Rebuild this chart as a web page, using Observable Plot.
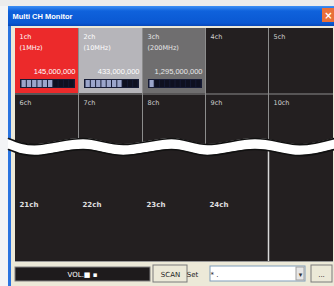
<!DOCTYPE html>
<html><head><meta charset="utf-8">
<script src="https://cdn.jsdelivr.net/npm/d3@7"></script>
<script src="https://cdn.jsdelivr.net/npm/@observablehq/plot@0.6"></script>
<style>html,body{margin:0;padding:0;background:#f3f4f6;} svg{display:block;}</style>
</head><body><div id="chart"></div>
<script>
// ---- data ----
const title = "Multi CH Monitor";
const channels = ["1ch","2ch","3ch","4ch","5ch","6ch","7ch","8ch","9ch","10ch"];
const bands = ["(1MHz)","(10MHz)","(200MHz)","","","","","","",""];
const freqs = ["145,000,000","433,000,000","1,295,000,000","","","","","","",""];
const levels = [6,7,1,0,0,0,0,0,0,0];
const states = ["active","on","scan","off","off","off","off","off","off","off"];
const lowerChannels = ["21ch","22ch","23ch","24ch"];
const displayText = "VOL.\u25A0 \u25AA";
const buttonText = "SCAN";
const setLabel = "Set";
const comboText = "* .";
const moreText = "...";
const waveX = [8,38,83,123,171,207,254,295,334];
const waveOffset = [-3,3,-3,3,-3,3,-3,3,-3];

// ---- layout / style ----
const W = 334, H = 286;
const COLS = [15,78,142,205,268,333];
const ROW_TOP = [28,94];
const ROW_BOT = [93,150];
const stateFill = {active:"#ec2a2b", on:"#b6b5ba", scan:"#6f6e6f", off:"#231f20"};
const stateText = {active:"#ffffff", on:"#ffffff", scan:"#e8e8e8", off:"#cfcfcf"};
const FONT = "DejaVu Sans";

const cells = channels.map((c,i)=>{
  const col = i%5, row = Math.floor(i/5);
  return {c, band:bands[i], freq:freqs[i], level:levels[i], state:states[i],
    x1: COLS[col] + (col>0?1:0), x2: COLS[col+1], y1: ROW_TOP[row], y2: ROW_BOT[row]};
});
const SEG = 10;
const segs = [];
cells.forEach(cell=>{
  if(!cell.freq) return;
  const mx1 = cell.x1+5, mx2 = cell.x2-3, sw = (mx2-mx1-2)/SEG;
  segs.push({bg:true, x1:mx1, x2:mx2, y1:79, y2:88});
  for(let j=0;j<SEG;j++) segs.push({bg:false, lit:j<cell.level, x1:mx1+1+j*sw+0.5, x2:mx1+1+(j+1)*sw-0.5, y1:80, y2:87});
});
const wave = waveX.map((x,i)=>({x, top:141+waveOffset[i], bot:152+waveOffset[i]}));

const rects = [
  {x1:0,x2:W,y1:0,y2:6,fill:"#ececec"},
  {x1:8,x2:W,y1:6,y2:H,fill:"#ece9d8"},
  {x1:8,x2:W,y1:6,y2:26,fill:"url(#tb)"},
  {x1:8,x2:11,y1:26,y2:H,fill:"#2a74e0"},
  {x1:322,x2:W,y1:8,y2:22,fill:"#e8703a"},
  {x1:15,x2:333,y1:28,y2:261,fill:"#231f20"}
];
const vlines = COLS.slice(1,5).map(x=>({x, y1:28, y2:150}));
const controls = [
  {x1:15,x2:150,y1:267,y2:281,fill:"#1e1b1c",stroke:"#808080"},
  {x1:153,x2:187,y1:265,y2:282,fill:"#ece9d8",stroke:"#7a7a7a"},
  {x1:210,x2:305,y1:266,y2:281,fill:"#ffffff",stroke:"#7f9db9"},
  {x1:296,x2:304,y1:267,y2:280,fill:"#e6e6e6",stroke:"#a0a0a0"},
  {x1:311,x2:332,y1:265,y2:282,fill:"#ece9d8",stroke:"#7a7a7a"}
];
const texts = [
  {x:82,y:274,t:displayText,fill:"#ffffff",anchor:"middle",size:7,weight:"bold"},
  {x:170,y:274,t:buttonText,fill:"#222",anchor:"middle",size:7,weight:"bold"},
  {x:192,y:274,t:setLabel,fill:"#222",anchor:"start",size:7,weight:"normal"},
  {x:214,y:274,t:comboText,fill:"#222",anchor:"start",size:7,weight:"normal"},
  {x:300,y:274,t:"\u25BE",fill:"#333",anchor:"middle",size:7,weight:"normal"},
  {x:321,y:274,t:moreText,fill:"#222",anchor:"middle",size:7,weight:"bold"}
];

const defs = () => {
  const d = d3.create("svg:defs");
  const g = d.append("linearGradient").attr("id","tb").attr("x1","0").attr("x2","0").attr("y1","0").attr("y2","1");
  g.append("stop").attr("offset","0").attr("stop-color","#3d8ff5");
  g.append("stop").attr("offset","0.25").attr("stop-color","#0f62dc");
  g.append("stop").attr("offset","0.85").attr("stop-color","#0a58d2");
  g.append("stop").attr("offset","1").attr("stop-color","#0847b8");
  return d.node();
};

const chart = Plot.plot({
  width: W, height: H, margin: 0,
  x: {type:"linear", domain:[0,W], range:[0,W], axis:null},
  y: {type:"linear", domain:[0,H], range:[0,H], axis:null},
  style: {background:"#f3f4f6"},
  marks: [
    defs,
    Plot.rect(rects, {x1:"x1",x2:"x2",y1:"y1",y2:"y2",fill:d=>d.fill}),
    Plot.text([title], {x:12, y:16, text:d=>d, fill:"#ffffff", fontSize:7.5, fontWeight:"bold", textAnchor:"start", fontFamily:"Liberation Sans"}),
    Plot.text(["\u00D7"], {x:328, y:15, text:d=>d, fill:"#ffffff", fontSize:10, fontWeight:"bold", fontFamily:FONT}),
    Plot.rect(cells, {x1:"x1",x2:"x2",y1:"y1",y2:"y2",fill:d=>stateFill[d.state]}),
    Plot.ruleX(vlines, {x:"x", y1:"y1", y2:"y2", stroke:"#8c8c8c", strokeWidth:1}),
    Plot.ruleY([93.5], {x1:15, x2:333, stroke:"#8c8c8c", strokeWidth:1}),
    Plot.ruleX([268], {y1:150, y2:261, stroke:"#d8d8d8", strokeWidth:1.5}),
    Plot.ruleY([261], {x1:15, x2:333, stroke:"#9a9a9a", strokeWidth:1}),
    Plot.text(cells, {x:d=>d.x1+4, y:d=>d.y1+8, text:"c", fill:d=>stateText[d.state], fontSize:6.5, textAnchor:"start", fontFamily:FONT}),
    Plot.text(cells.filter(d=>d.band), {x:d=>d.x1+4, y:d=>d.y1+19, text:"band", fill:d=>stateText[d.state], fontSize:6.5, textAnchor:"start", fontFamily:FONT}),
    Plot.text(cells.filter(d=>d.freq), {x:d=>d.x2-3, y:71, text:"freq", fill:d=>stateText[d.state], fontSize:7.5, textAnchor:"end", fontFamily:"Liberation Sans"}),
    Plot.rect(segs.filter(d=>d.bg), {x1:"x1",x2:"x2",y1:"y1",y2:"y2",fill:"#161b35"}),
    Plot.rect(segs.filter(d=>!d.bg), {x1:"x1",x2:"x2",y1:"y1",y2:"y2",fill:d=>d.lit?"#9ba5cb":"#0e1020"}),
    Plot.areaY(wave, {x:"x", y1:"top", y2:"bot", fill:"#ffffff", curve:"natural"}),
    Plot.line(wave, {x:"x", y:"top", stroke:"#111", strokeWidth:1.6, curve:"natural"}),
    Plot.line(wave, {x:"x", y:"bot", stroke:"#111", strokeWidth:1.6, curve:"natural"}),
    Plot.text(lowerChannels, {x:(d,i)=>COLS[i]+4, y:204, text:d=>d, fill:"#e0e0e0", fontSize:7, fontWeight:"bold", textAnchor:"start", fontFamily:FONT}),
    Plot.rect(controls, {x1:"x1",x2:"x2",y1:"y1",y2:"y2",fill:d=>d.fill,stroke:d=>d.stroke,strokeWidth:1}),
    Plot.text(texts, {x:"x", y:"y", text:"t", fill:d=>d.fill, fontSize:d=>d.size, fontWeight:d=>d.weight, textAnchor:d=>d.anchor, fontFamily:FONT})
  ]
});
document.getElementById("chart").append(chart);
</script></body></html>
